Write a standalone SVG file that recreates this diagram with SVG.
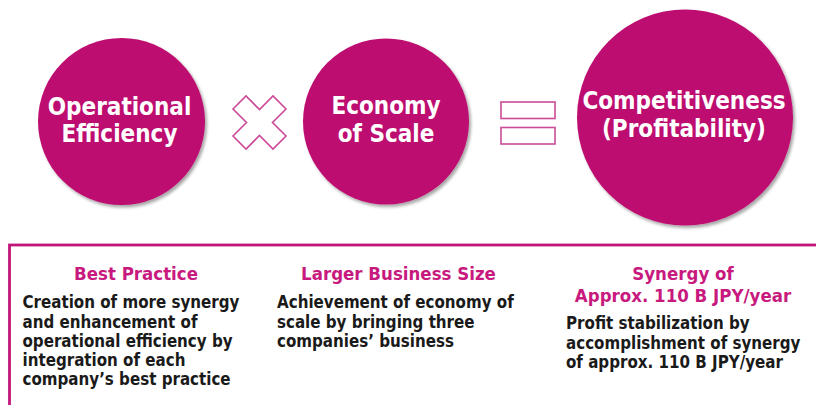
<svg xmlns="http://www.w3.org/2000/svg" width="816" height="405" viewBox="0 0 816 405">
  <defs>
    <filter id="shadow" x="-20%" y="-20%" width="140%" height="140%">
      <feDropShadow dx="2" dy="2.5" stdDeviation="1.8" flood-color="#000" flood-opacity="0.35"/>
    </filter>
    <filter id="boxShadow" x="-5%" y="-5%" width="110%" height="110%">
      <feDropShadow dx="1.5" dy="2" stdDeviation="1.2" flood-color="#000" flood-opacity="0.3"/>
    </filter>
  </defs>
  <style>
    .circle { fill: #BD1170; filter: url(#shadow); }
    .ctext { font-family: "DejaVu Sans Condensed", "DejaVu Sans", sans-serif; font-weight: bold; font-size: 24px; fill: #ffffff; text-anchor: middle; }
    .op { fill: #ffffff; stroke: #CC4A98; stroke-width: 1.6; }
    .title { font-family: "DejaVu Sans Condensed", "DejaVu Sans", sans-serif; font-weight: bold; font-size: 18.5px; fill: #C8197E; text-anchor: middle; }
    .body { font-family: "DejaVu Sans Condensed", "DejaVu Sans", sans-serif; font-weight: bold; font-size: 16.8px; fill: #1a1a1a; }
  </style>

  <!-- top row: factor circles -->
  <g id="operational-efficiency">
    <circle class="circle" cx="121.5" cy="121.5" r="83.5"/>
    <text class="ctext" x="119.5" y="115">Operational</text>
    <text class="ctext" x="119.5" y="142">Efficiency</text>
  </g>

  <g id="times-sign">
    <polygon class="op" points="233,109 246,96 259.5,109.5 273,96 286,109 272.5,122.5 286,136 273,149 259.5,135.5 246,149 233,136 246.5,122.5"/>
  </g>

  <g id="economy-of-scale">
    <circle class="circle" cx="386" cy="121.5" r="83"/>
    <text class="ctext" x="386" y="114">Economy</text>
    <text class="ctext" x="386" y="142">of Scale</text>
  </g>

  <g id="equals-sign">
    <rect class="op" x="501" y="102" width="54" height="16.5"/>
    <rect class="op" x="501" y="127.5" width="54" height="16.5"/>
  </g>

  <g id="competitiveness">
    <circle class="circle" cx="685" cy="117.5" r="108"/>
    <text class="ctext" x="684" y="108.5">Competitiveness</text>
    <text class="ctext" x="684" y="137">(Profitability)</text>
  </g>

  <!-- bottom panel -->
  <g id="detail-panel">
    <rect x="9.5" y="245" width="830" height="200" fill="#ffffff" stroke="#C2177A" stroke-width="2.8" filter="url(#boxShadow)"/>
  </g>

  <g id="best-practice">
    <text class="title" x="136" y="280">Best Practice</text>
    <text class="body" x="22.5" y="308">Creation of more synergy</text>
    <text class="body" x="22.5" y="327.5">and enhancement of</text>
    <text class="body" x="22.5" y="346.5">operational efficiency by</text>
    <text class="body" x="22.5" y="366">integration of each</text>
    <text class="body" x="22.5" y="385">company’s best practice</text>
  </g>

  <g id="larger-business-size">
    <text class="title" x="398.5" y="280">Larger Business Size</text>
    <text class="body" x="277" y="308">Achievement of economy of</text>
    <text class="body" x="277" y="327.5">scale by bringing three</text>
    <text class="body" x="277" y="346.5">companies’ business</text>
  </g>

  <g id="synergy">
    <text class="title" x="683" y="280">Synergy of</text>
    <text class="title" x="683" y="301.5">Approx. 110 B JPY/year</text>
    <text class="body" x="566" y="329">Profit stabilization by</text>
    <text class="body" x="566" y="348.5">accomplishment of synergy</text>
    <text class="body" x="566" y="368">of approx. 110 B JPY/year</text>
  </g>
</svg>
